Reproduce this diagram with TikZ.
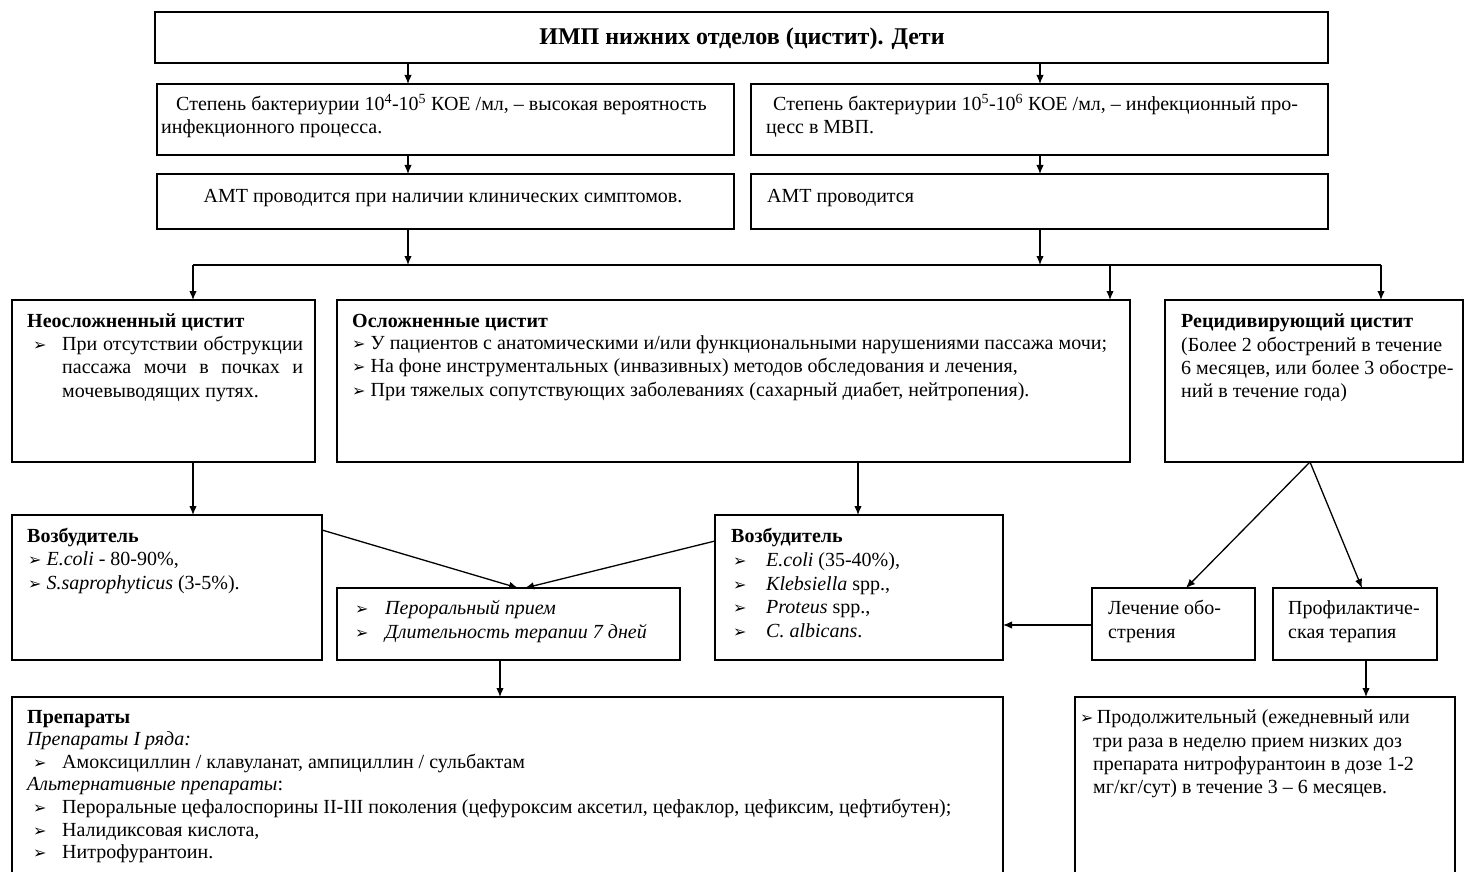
\documentclass[tikz,border=0pt]{standalone}
\usepackage{fontspec}
\setmainfont{Liberation Serif}
\newfontfamily\symfont{DejaVu Sans}
\usetikzlibrary{arrows.meta}

% bullet mark used in the lists
\newcommand{\bul}{{\symfont\fontsize{16}{16}\selectfont ➢}}

\begin{document}
\begin{tikzpicture}[x=1pt,y=-1pt,
  box/.style={draw, line width=1.4pt, anchor=north west, inner sep=0pt, outer sep=0pt},
  txt/.style={anchor=base west, inner sep=0pt, font=\fontsize{20}{23.5}\selectfont},
  ctxt/.style={txt, anchor=base},
  conn/.style={line width=1.3pt},
  arr/.style={conn, -{Latex[length=9pt,width=7.5pt]}},
]
\useasboundingbox (0,0) rectangle (1465,872);

% ---------- boxes ----------
\node[box, minimum width=1173pt, minimum height=51pt] (top) at (155,12) {};
\node[box, minimum width=577pt, minimum height=71pt] (l1) at (157,84) {};
\node[box, minimum width=577pt, minimum height=71pt] (r1) at (751,84) {};
\node[box, minimum width=577pt, minimum height=55pt] (l2) at (157,174) {};
\node[box, minimum width=577pt, minimum height=55pt] (r2) at (751,174) {};
\node[box, minimum width=303pt, minimum height=162pt] (unc) at (12,300) {};
\node[box, minimum width=793pt, minimum height=162pt] (cmp) at (337,300) {};
\node[box, minimum width=298pt, minimum height=162pt] (rec) at (1165,300) {};
\node[box, minimum width=310pt, minimum height=145pt] (pa) at (12,515) {};
\node[box, minimum width=343pt, minimum height=72pt] (oral) at (337,588) {};
\node[box, minimum width=288pt, minimum height=145pt] (pb) at (715,515) {};
\node[box, minimum width=163pt, minimum height=72pt] (tr) at (1092,588) {};
\node[box, minimum width=164pt, minimum height=72pt] (pr) at (1273,588) {};
\node[box, minimum width=991pt, minimum height=190pt] (drug) at (12,697) {};
\node[box, minimum width=380pt, minimum height=190pt] (long) at (1075,697) {};

% ---------- texts ----------
\node[ctxt, font=\fontsize{24}{28}\selectfont\bfseries] (title) at (742,45) {ИМП нижних отделов (цистит). Дети};

\node[txt] (l1a) at (176,111) {Степень бактериурии 10\textsuperscript{4}-10\textsuperscript{5} КОЕ /мл, – высокая вероятность};
\node[txt] (l1b) at (161,134) {инфекционного процесса.};
\node[txt] (r1a) at (773,111) {Степень бактериурии 10\textsuperscript{5}-10\textsuperscript{6} КОЕ /мл, – инфекционный про-};
\node[txt] (r1b) at (766,134) {цесс в МВП.};
\node[ctxt] (l2a) at (443,202) {АМТ проводится при наличии клинических симптомов.};
\node[txt] (r2a) at (767,202) {АМТ проводится};

\node[txt, font=\fontsize{20}{23.5}\selectfont\bfseries] (unch) at (27,327) {Неосложненный цистит};
\node[txt] (unb) at (33,350) {\bul};
\node[txt] (un1) at (62,350) {\makebox[241pt][s]{При отсутствии обструкции}};
\node[txt] (un2) at (62,373) {\makebox[241pt][s]{пассажа мочи в почках и}};
\node[txt] (un3) at (62,397) {мочевыводящих путях.};

\node[txt, font=\fontsize{20}{23.5}\selectfont\bfseries] (cmph) at (352,327) {Осложненные цистит};
\node[txt] (cm1) at (352,349) {\bul\ У пациентов с анатомическими и/или функциональными нарушениями пассажа мочи;};
\node[txt] (cm2) at (352,372) {\bul\ На фоне инструментальных (инвазивных) методов обследования и лечения,};
\node[txt] (cm3) at (352,396) {\bul\ При тяжелых сопутствующих заболеваниях (сахарный диабет, нейтропения).};

\node[txt, font=\fontsize{20}{23.5}\selectfont\bfseries] (rech) at (1181,327) {Рецидивирующий цистит};
\node[txt] (re1) at (1181,351) {(Более 2 обострений в течение};
\node[txt] (re2) at (1181,374) {6 месяцев, или более 3 обостре-};
\node[txt] (re3) at (1181,397) {ний в течение года)};

\node[txt, font=\fontsize{20}{23.5}\selectfont\bfseries] (pah) at (27,542) {Возбудитель};
\node[txt] (pa1) at (28,565) {\bul\ \textit{E.coli} - 80-90\%,};
\node[txt] (pa2) at (28,589) {\bul\ \textit{S.saprophyticus} (3-5\%).};

\node[txt] (orb1) at (355,614) {\bul};
\node[txt] (or1) at (385,614) {\textit{Пероральный прием}};
\node[txt] (orb2) at (355,638) {\bul};
\node[txt] (or2) at (385,638) {\textit{Длительность терапии 7 дней}};

\node[txt, font=\fontsize{20}{23.5}\selectfont\bfseries] (pbh) at (731,542) {Возбудитель};
\node[txt] (pbb1) at (733,566) {\bul};
\node[txt] (pb1) at (766,566) {\textit{E.coli} (35-40\%),};
\node[txt] (pbb2) at (733,590) {\bul};
\node[txt] (pb2) at (766,590) {\textit{Klebsiella} spp.,};
\node[txt] (pbb3) at (733,613) {\bul};
\node[txt] (pb3) at (766,613) {\textit{Proteus} spp.,};
\node[txt] (pbb4) at (733,637) {\bul};
\node[txt] (pb4) at (766,637) {\textit{C. albicans}.};

\node[txt] (tr1) at (1108,614) {Лечение обо-};
\node[txt] (tr2) at (1108,638) {стрения};
\node[txt] (pr1) at (1288,614) {Профилактиче-};
\node[txt] (pr2) at (1288,638) {ская терапия};

\node[txt, font=\fontsize{20}{23.5}\selectfont\bfseries] (drh) at (27,723) {Препараты};
\node[txt] (dr1) at (27,745) {\textit{Препараты I ряда:}};
\node[txt] (drb2) at (33,768) {\bul};
\node[txt] (dr2) at (62,768) {Амоксициллин / клавуланат, ампициллин / сульбактам};
\node[txt] (dr3) at (27,790) {\textit{Альтернативные препараты}:};
\node[txt] (drb4) at (33,813) {\bul};
\node[txt] (dr4) at (62,813) {Пероральные цефалоспорины II-III поколения (цефуроксим аксетил, цефаклор, цефиксим, цефтибутен);};
\node[txt] (drb5) at (33,836) {\bul};
\node[txt] (dr5) at (62,836) {Налидиксовая кислота,};
\node[txt] (drb6) at (33,858) {\bul};
\node[txt] (dr6) at (62,858) {Нитрофурантоин.};

\node[txt] (lo1) at (1080,723) {\bul\,Продолжительный (ежедневный или};
\node[txt] (lo2) at (1093,747) {три раза в неделю прием низких доз};
\node[txt] (lo3) at (1093,770) {препарата нитрофурантоин в дозе 1-2};
\node[txt] (lo4) at (1093,793) {мг/кг/сут) в течение 3 – 6 месяцев.};

% ---------- connectors ----------
\draw[arr] (top.south -| 408,0) -- (l1.north -| 408,0);
\draw[arr] (top.south -| 1040,0) -- (r1.north -| 1040,0);
\draw[arr] (l1.south -| 408,0) -- (l2.north -| 408,0);
\draw[arr] (r1.south -| 1040,0) -- (r2.north -| 1040,0);

\coordinate (busL) at (193,265);
\coordinate (busR) at (1381,265);
\draw[arr] (l2.south -| 408,0) -- (408,265);
\draw[arr] (r2.south -| 1040,0) -- (1040,265);
\draw[conn] (busL) -- (busR);
\draw[arr] (busL) -- (unc.north -| busL);
\draw[arr] (1110,265) -- (cmp.north -| 1110,0);
\draw[arr] (busR) -- (rec.north -| busR);

\draw[arr] (unc.south -| 193,0) -- (pa.north -| 193,0);
\draw[arr] (cmp.south -| 858,0) -- (pb.north -| 858,0);

\coordinate (oralA) at (518,588);
\coordinate (oralB) at (525,588);
\draw[arr] (pa.east |- 0,530) -- (oralA);
\draw[arr] (pb.west |- 0,541) -- (oralB);

\coordinate (recB) at (1310,462);
\draw[arr] (recB) -- (tr.north -| 1186,0);
\draw[arr] (recB) -- (pr.north -| 1362,0);
\draw[arr] (tr.west |- 0,625) -- (pb.east |- 0,625);

\draw[arr] (oral.south -| 500,0) -- (drug.north -| 500,0);
\draw[arr] (pr.south -| 1366,0) -- (long.north -| 1366,0);
\end{tikzpicture}
\end{document}
